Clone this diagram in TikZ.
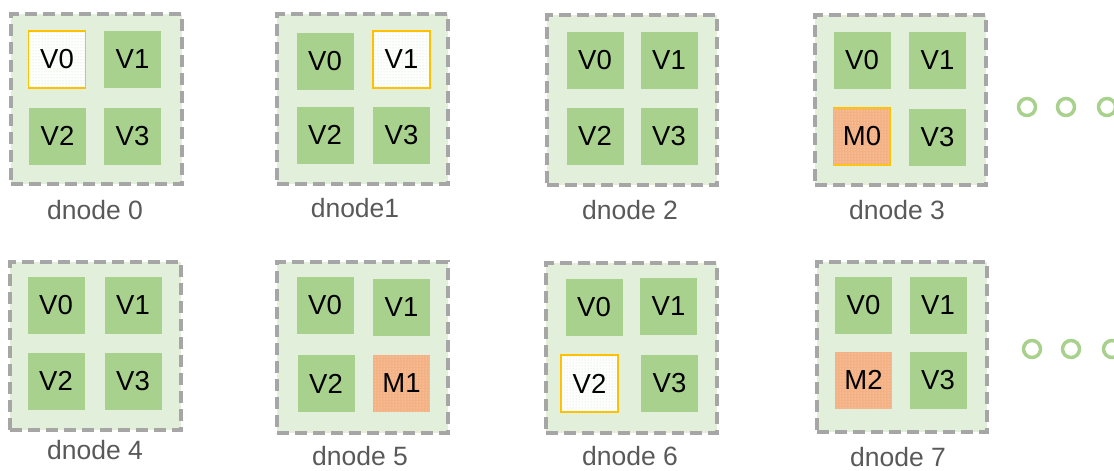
\documentclass[tikz,border=0pt]{standalone}
\usepackage{fontspec}
\setmainfont{Liberation Sans}
\usetikzlibrary{patterns}
\definecolor{bgGreen}{HTML}{E2EFDA}
\definecolor{cellGreen}{HTML}{A9D18E}
\definecolor{dashGray}{HTML}{A6A6A6}
\definecolor{hiYellow}{HTML}{FFC000}
\definecolor{memOrange}{HTML}{F4B183}
\definecolor{labelGray}{HTML}{595959}
\definecolor{dotGreen}{HTML}{C5E0B4}
\tikzset{
  x=1pt, y=-1pt,
  dnodebox/.style={draw=dashGray, fill=bgGreen, line width=3.2pt, dash pattern=on 12pt off 6pt},
  cell/.style={fill=cellGreen, minimum size=57pt, inner sep=0pt, font=\fontsize{27.5}{27.5}\selectfont, text=black},
  freecell/.style={cell, fill=white, draw=hiYellow, line width=1.5pt, postaction={pattern=dots, pattern color=dotGreen}},
  memcell/.style={cell, fill=memOrange, postaction={pattern=dots, pattern color=white!70!memOrange}},
  memhl/.style={memcell, draw=hiYellow, line width=1.5pt},
  dlabel/.style={font=\fontsize{26.5}{26.5}\selectfont, text=labelGray},
  ellip/.style={circle, draw=cellGreen, line width=3.5pt, minimum size=17pt, inner sep=0pt}
}
\begin{document}
\begin{tikzpicture}
\useasboundingbox (0,0) rectangle (1114,471);
% row 1
\node[dnodebox, minimum width=171pt, minimum height=170pt] (b0) at (96.5,99) {};
\node[freecell] (b0v0) at (57,59.5) {V0};
\node[cell] (b0v1) at (132.5,59.5) {V1};
\node[cell] (b0v2) at (57.5,136) {V2};
\node[cell] (b0v3) at (132.5,136) {V3};
\node[dlabel] (l0) at (95,210) {dnode 0};

\node[dnodebox, minimum width=171pt, minimum height=170pt] (b1) at (362.5,99) {};
\node[cell] (b1v0) at (325,61) {V0};
\node[freecell] (b1v1) at (401.5,59.5) {V1};
\node[cell] (b1v2) at (325,135) {V2};
\node[cell] (b1v3) at (401.5,135) {V3};
\node[dlabel] (l1) at (355,208) {dnode1};

\node[dnodebox, minimum width=170pt, minimum height=170pt] (b2) at (632,100) {};
\node[cell] (b2v0) at (595,60) {V0};
\node[cell] (b2v1) at (669,60) {V1};
\node[cell] (b2v2) at (595,136) {V2};
\node[cell] (b2v3) at (669,136) {V3};
\node[dlabel] (l2) at (630,210) {dnode 2};

\node[dnodebox, minimum width=171pt, minimum height=170pt] (b3) at (900.5,100) {};
\node[cell] (b3v0) at (862,60.5) {V0};
\node[cell] (b3v1) at (937.5,60.5) {V1};
\node[memhl] (b3m0) at (862,136.5) {M0};
\node[cell] (b3v3) at (937.5,137) {V3};
\node[dlabel] (l3) at (897,210) {dnode 3};

\node[ellip] (c1) at (1027,107) {};
\node[ellip] (c2) at (1066,107) {};
\node[ellip] (c3) at (1107,107) {};

% row 2
\node[dnodebox, minimum width=171pt, minimum height=168pt] (b4) at (95.5,346) {};
\node[cell] (b4v0) at (56,305) {V0};
\node[cell] (b4v1) at (133,305) {V1};
\node[cell] (b4v2) at (56,381) {V2};
\node[cell] (b4v3) at (133,381) {V3};
\node[dlabel] (l4) at (95,450) {dnode 4};

\node[dnodebox, minimum width=171pt, minimum height=171pt] (b5) at (362.5,347.5) {};
\node[cell] (b5v0) at (325,305.5) {V0};
\node[cell] (b5v1) at (401.5,307.5) {V1};
\node[cell] (b5v2) at (326,383.5) {V2};
\node[memcell] (b5m1) at (401.5,383.5) {M1};
\node[dlabel] (l5) at (360,456) {dnode 5};

\node[dnodebox, minimum width=171pt, minimum height=170pt] (b6) at (631.5,348) {};
\node[cell] (b6v0) at (594,307.5) {V0};
\node[cell] (b6v1) at (668.5,306) {V1};
\node[freecell] (b6v2) at (589.5,383.5) {V2};
\node[cell] (b6v3) at (669.5,383.5) {V3};
\node[dlabel] (l6) at (630,456) {dnode 6};

\node[dnodebox, minimum width=170pt, minimum height=170pt] (b7) at (902,347) {};
\node[cell] (b7v0) at (863.5,305.5) {V0};
\node[cell] (b7v1) at (938,305.5) {V1};
\node[memcell] (b7m2) at (863.5,380) {M2};
\node[cell] (b7v3) at (938,380.5) {V3};
\node[dlabel] (l7) at (898,457) {dnode 7};

\node[ellip] (c4) at (1032,349) {};
\node[ellip] (c5) at (1071,349) {};
\node[ellip] (c6) at (1112,349) {};
\end{tikzpicture}
\end{document}
